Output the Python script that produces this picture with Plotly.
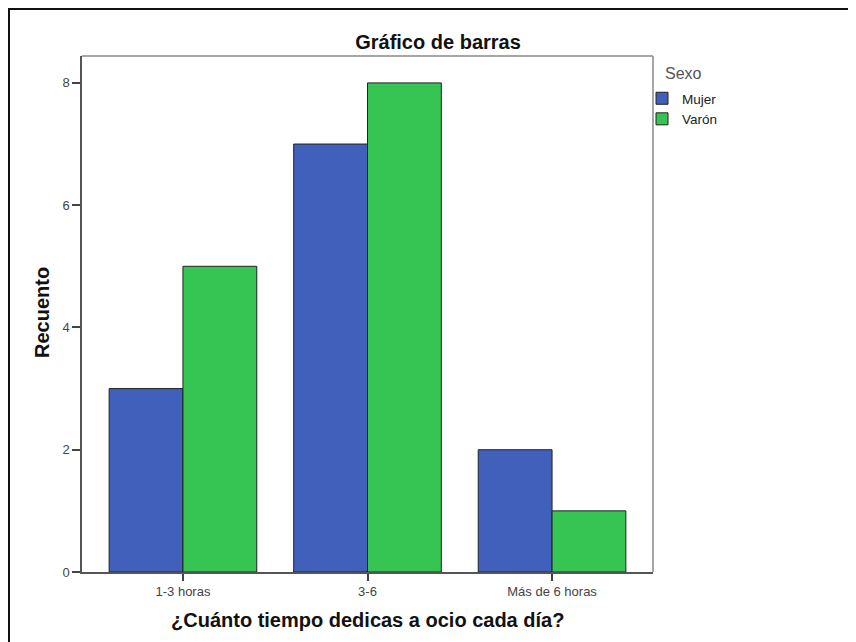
import plotly.graph_objects as go

categories = ["1-3 horas", "3-6", "Más de 6 horas"]
mujer = [3, 7, 2]
varon = [5, 8, 1]
series_names = ["Mujer", "Varón"]
y_ticks = [0, 2, 4, 6, 8]

# page is rendered with a small body offset; figure coordinates compensate
W, H = 848, 634
L, R, T, B = 74, 645, 48, 564
pw, ph = R - L, B - T

fig = go.Figure()
fig.add_trace(go.Bar(x=categories, y=mujer, name=series_names[0],
                     marker=dict(color="#4060BC", line=dict(color="#222222", width=1))))
fig.add_trace(go.Bar(x=categories, y=varon, name=series_names[1],
                     marker=dict(color="#36C452", line=dict(color="#222222", width=1))))

FONT = "Liberation Sans, Arial, sans-serif"
fig.update_layout(
    width=W, height=H,
    margin=dict(l=L, r=W - R, t=T, b=H - B, pad=0),
    paper_bgcolor="white", plot_bgcolor="white",
    barmode="group", bargap=0.2, bargroupgap=0,
    font=dict(family=FONT, size=13, color="#333333"),
    title=dict(text="<b>Gráfico de barras</b>", x=430 / W, xanchor="center",
               y=1 - 34 / H, yanchor="middle",
               font=dict(size=20, color="#111111")),
    legend=dict(x=(634 - L) / pw, xanchor="left", y=(B - 75) / ph, yanchor="top",
                font=dict(size=13.5, color="#222222"), bgcolor="rgba(0,0,0,0)",
                itemwidth=30, tracegroupgap=0),
    showlegend=True,
)

fig.update_xaxes(
    range=[-0.547, 2.547], showgrid=False,
    showline=True, linecolor="#555555", linewidth=1.5, mirror=False,
    ticks="outside", ticklen=7, tickcolor="#444444", tickwidth=1.5,
    tickfont=dict(size=13, color="#444444"),
)
fig.update_yaxes(
    range=[0, 8.44], tickvals=y_ticks, showgrid=False, zeroline=False,
    showline=True, linecolor="#555555", linewidth=1.5,
    ticks="outside", ticklen=8, tickcolor="#444444", tickwidth=1.5,
    tickfont=dict(size=13, color="#444444"),
)

# legend title
fig.add_annotation(text="Sexo", xref="paper", yref="paper",
                   x=(655 - L) / pw, y=(B - 66) / ph, xanchor="left", yanchor="middle",
                   showarrow=False, font=dict(family=FONT, size=16, color="#555555"))

# axis titles
fig.add_annotation(text="<b>¿Cuánto tiempo dedicas a ocio cada día?</b>",
                   xref="paper", yref="paper", x=(359 - L) / pw, y=(B - 612) / ph,
                   xanchor="center", yanchor="middle", showarrow=False,
                   font=dict(family=FONT, size=20, color="#111111"))
fig.add_annotation(text="<b>Recuento</b>", textangle=-90,
                   xref="paper", yref="paper", x=(34 - L) / pw, y=(B - 305) / ph,
                   xanchor="center", yanchor="middle", showarrow=False,
                   font=dict(family=FONT, size=20, color="#111111"))

# light frame on top/right of plot area
fig.add_shape(type="line", xref="paper", yref="paper", x0=0, x1=1, y0=1, y1=1,
              line=dict(color="#888888", width=1.5))
fig.add_shape(type="line", xref="paper", yref="paper", x0=1, x1=1, y0=0, y1=1,
              line=dict(color="#888888", width=1.5))
# outer chart border (extends past right/bottom edges)
fig.add_shape(type="rect", xref="paper", yref="paper",
              x0=(1 - L) / pw, x1=(W + 10 - L) / pw,
              y0=(B - (H + 10)) / ph, y1=(B - 1) / ph,
              line=dict(color="#111111", width=2), fillcolor="rgba(0,0,0,0)", layer="below")

fig.write_html("out.html")
